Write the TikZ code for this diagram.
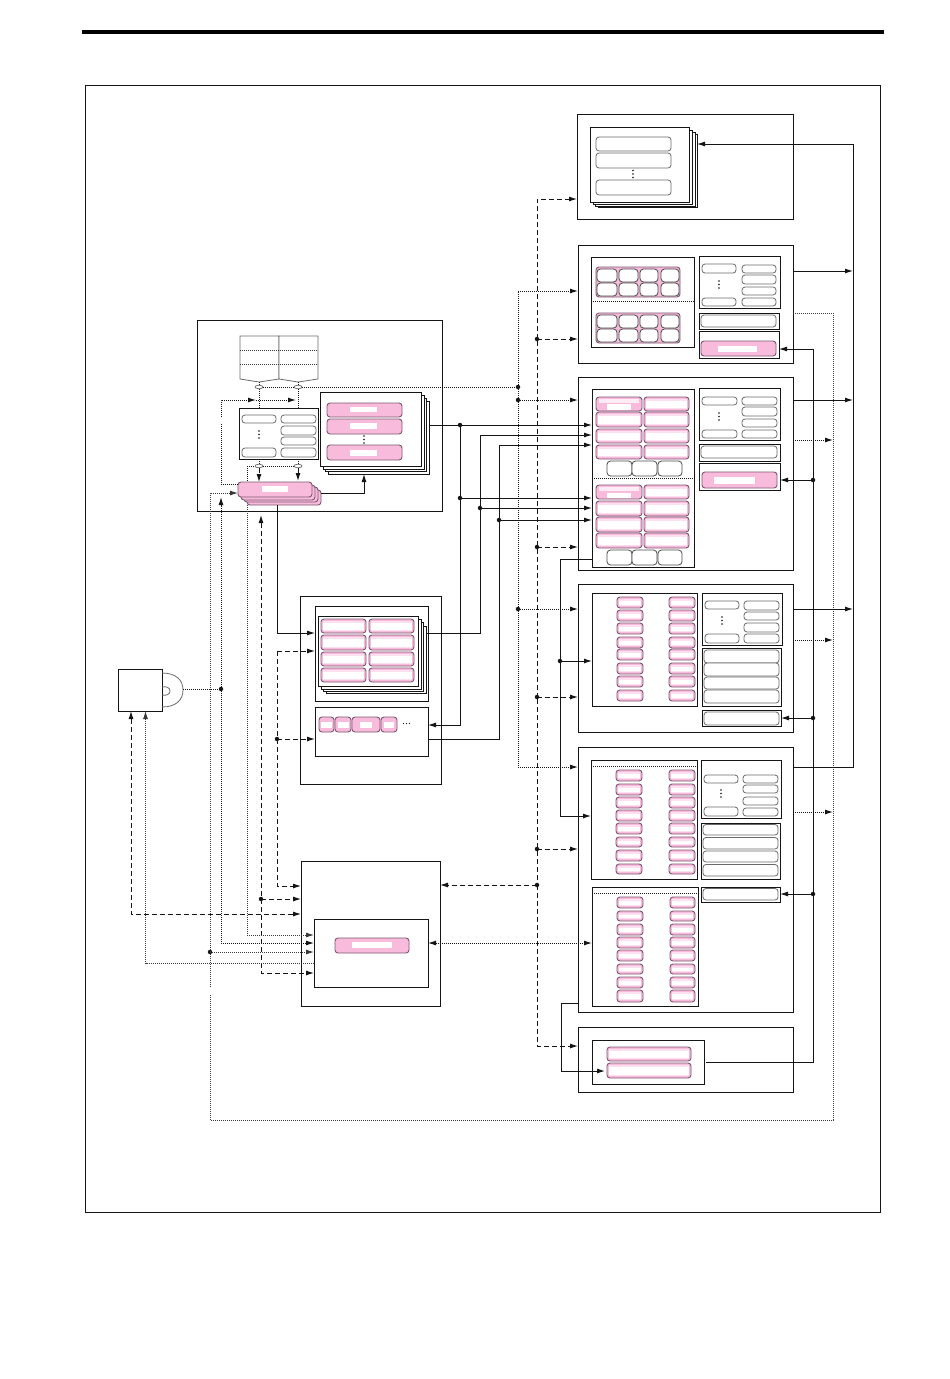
\documentclass[tikz,border=0pt]{standalone}
\usetikzlibrary{arrows.meta,shapes.geometric,calc}
\definecolor{pk}{HTML}{F9BBDC}
\definecolor{pkb}{HTML}{7A5870}
\definecolor{grb}{HTML}{6A6A6A}
\definecolor{ink}{HTML}{151515}
\tikzset{
  base/.style={rectangle,anchor=north west,inner sep=0pt,outer sep=0pt},
  boxst/.style={base,draw=ink,line width=.95pt,fill=white},
  sheet/.style={base,draw=ink,line width=.8pt,fill=white},
  ent/.style={base,draw=grb,line width=.8pt,fill=white,rounded corners=3pt},
  cell/.style={base,draw=grb!70!black,line width=.8pt,fill=white,rounded corners=3.5pt},
  pinkst/.style={base,draw=pkb,line width=.9pt,fill=pk,rounded corners=3pt},
  sol/.style={draw=ink,line width=.95pt},
  dsh/.style={draw=ink,line width=.95pt,dash pattern=on 5pt off 3pt},
  dot/.style={draw=ink,line width=1pt,dash pattern=on 1pt off 1pt},
  dotg/.style={draw=ink!85,line width=.9pt,dash pattern=on 1pt off 1pt},
  ar/.style={-{Latex[length=8pt,width=5pt]}},
  ra/.style={{Latex[length=8pt,width=5pt]}-},
  bi/.style={{Latex[length=8pt,width=5pt]}-{Latex[length=8pt,width=5pt]}},
  jn/.style={circle,fill=ink,inner sep=0pt,minimum size=4.5pt,outer sep=0pt},
  elp/.style={ellipse,draw=grb,line width=.7pt,fill=white,minimum width=8pt,minimum height=3.5pt,inner sep=0pt},
  pg/.style={draw=grb,line width=.8pt,fill=white},
  sep/.style={draw=ink,line width=.95pt,dash pattern=on 1pt off 1pt},
}
\newcommand\bx[6][boxst]{\pgfmathsetmacro\bxw{#5-#3}\pgfmathsetmacro\bxh{#6-#4}\node[#1,minimum width=\bxw pt,minimum height=\bxh pt] (#2) at (#3,#4) {};}
\newcommand\pkc[5]{\bx[pinkst]{#1}{#2}{#3}{#4}{#5}\fill[pk!45!white] ($(#2,#3)+(1.6,2)$) rectangle ($(#4,#5)+(-1.6,-1.8)$);\fill[white] ($(#2,#3)+(2.2,3.6)$) rectangle ($(#4,#5)+(-2.2,-3.4)$);}
\newcommand\pkw[9]{\bx[pinkst]{#1}{#2}{#3}{#4}{#5}\fill[white] (#6,#7) rectangle (#8,#9);}
\newcommand\vd[2]{\fill[ink] (#1,#2) circle (.9pt) (#1,#2+3.5) circle (.9pt) (#1,#2+7) circle (.9pt);}
\begin{document}
\begin{tikzpicture}[x=1pt,y=-1pt]
\useasboundingbox (0,0) rectangle (950,1379);
\fill[white] (0,0) rectangle (950,1379);
\draw[black,line width=3.2pt] (82,32) -- (884,32);
\bx[sheet]{frame}{85}{85}{880}{1212}

% ---------- Box A
\bx{boxA}{577}{114}{793}{219}
\bx[sheet]{sAd}{598}{134}{697}{207}
\bx[sheet]{sAc}{595}{132}{695}{206}
\bx[sheet]{sAb}{593}{130}{692}{204}
\bx[sheet]{sAa}{590}{127}{689}{202}
\bx[ent]{a1}{596}{137}{671}{151}
\bx[ent]{a2}{596}{153}{671}{168}
\bx[ent]{a3}{596}{180}{671}{195}
\vd{633}{170.5}

% ---------- Box B
\bx{boxB}{578}{245}{793}{363}
\bx{bL}{591}{257}{694}{347}
\draw[sep] (bL.west |- 0,301) -- (bL.east |- 0,301);
\bx[pinkst]{bG1}{596}{267}{680}{297}
\bx[pinkst]{bG2}{596}{313}{680}{343}
\foreach \k/\a/\b in {a/597/617,b/619/638,c/640/658,d/661/679}{
  \bx[cell]{bc1\k}{\a}{269}{\b}{282}
  \bx[cell]{bc2\k}{\a}{283}{\b}{296}
  \bx[cell]{bc3\k}{\a}{315}{\b}{328}
  \bx[cell]{bc4\k}{\a}{329}{\b}{342}
}
\bx{bR1}{699}{256}{780}{308}
\bx[ent]{bl1}{702}{264}{736}{273}
\bx[ent]{bl2}{702}{298}{736}{306}
\bx[ent]{br1}{742}{265}{776}{273}
\bx[ent]{br2}{742}{275}{776}{284}
\bx[ent]{br3}{742}{287}{776}{295}
\bx[ent]{br4}{742}{298}{776}{306}
\vd{719}{281}
\bx{bR2}{699}{313}{779}{329}
\bx[ent]{bR2e}{701}{315}{776}{327}
\bx{bR3}{699}{331}{779}{358}
\pkw{bR3p}{701}{341}{776}{356}{718}{346}{757}{352}

% ---------- Box C
\bx{boxC}{578}{377}{793}{570}
\bx{cL}{592}{389}{694}{567}
\draw[sep] (cL.west |- 0,478) -- (cL.east |- 0,478);
\pkw{c11}{596}{397}{642}{411}{607}{404}{631}{410}
\fill[white!70!pk] (599,399) rectangle (639,403);
\pkc{c12}{644}{397}{689}{411}
\pkc{c21}{596}{412}{642}{427}\pkc{c22}{644}{412}{689}{427}
\pkc{c31}{596}{429}{642}{443}\pkc{c32}{644}{429}{689}{443}
\pkc{c41}{596}{445}{642}{459}\pkc{c42}{644}{445}{689}{459}
\bx[cell]{cw1}{607}{461}{632}{476}\bx[cell]{cw2}{632}{461}{657}{476}\bx[cell]{cw3}{658}{461}{682}{476}
\pkw{c51}{596}{485}{642}{499}{607}{493}{631}{498}
\fill[white!70!pk] (599,486.5) rectangle (639,491);
\pkc{c52}{644}{485}{689}{499}
\pkc{c61}{596}{501}{642}{516}\pkc{c62}{644}{501}{689}{516}
\pkc{c71}{596}{517}{642}{532}\pkc{c72}{644}{517}{689}{532}
\pkc{c81}{596}{533}{642}{548}\pkc{c82}{644}{533}{689}{548}
\bx[cell]{cw4}{607}{550}{632}{565}\bx[cell]{cw5}{632}{550}{657}{565}\bx[cell]{cw6}{658}{550}{682}{565}
\bx{cR1}{699}{388}{780}{440}
\bx[ent]{cl1}{702}{397}{737}{405}
\bx[ent]{cl2}{702}{430}{737}{438}
\bx[ent]{cr1}{742}{397}{777}{405}
\bx[ent]{cr2}{742}{407}{777}{416}
\bx[ent]{cr3}{742}{419}{777}{427}
\bx[ent]{cr4}{742}{430}{777}{438}
\vd{719}{413}
\bx{cR2}{699}{444}{780}{461}
\bx[ent]{cR2e}{701}{446}{777}{458}
\bx{cR3}{699}{463}{780}{490}
\pkw{cR3p}{702}{472}{777}{488}{714}{477}{755}{484}

% ---------- Box D
\bx{boxD}{578}{584}{793}{732}
\bx{dL}{592}{593}{697}{706}
\foreach \i/\a/\b in {1/597/608,2/610/621,3/623/634,4/637/648,5/649/660,6/663/674,7/676/687,8/690/701}{
  \pkc{dp\i}{617}{\a}{643}{\b}
  \pkc{dq\i}{669}{\a}{695}{\b}
}
\bx{dR1}{702}{593}{782}{645}
\bx[ent]{dl1}{705}{601}{739}{609}
\bx[ent]{dl2}{705}{634}{739}{643}
\bx[ent]{dr1}{744}{601}{779}{610}
\bx[ent]{dr2}{744}{612}{779}{620}
\bx[ent]{dr3}{744}{623}{779}{632}
\bx[ent]{dr4}{744}{634}{779}{643}
\vd{722}{617}
\bx{dR2}{702}{648}{781}{706}
\bx[ent]{dm1}{704}{650}{779}{663}
\bx[ent]{dm2}{704}{663}{779}{676}
\bx[ent]{dm3}{704}{677}{779}{689}
\bx[ent]{dm4}{704}{690}{779}{703}
\bx{dR3}{702}{710}{781}{726}
\bx[ent]{dR3e}{704}{712}{779}{725}

% ---------- Box E
\bx{boxE}{578}{747}{793}{1012}
\bx{eT}{591}{760}{697}{879}
\draw[sep] (eT.west |- 0,766) -- (eT.east |- 0,766);
\foreach \i/\a/\b in {1/770/781,2/784/795,3/797/808,4/810/821,5/823/834,6/837/847,7/850/861,8/864/874}{
  \pkc{ep\i}{616}{\a}{642}{\b}
  \pkc{eq\i}{669}{\a}{695}{\b}
}
\bx{eR1}{701}{760}{781}{818}
\bx[ent]{el1}{704}{775}{738}{783}
\bx[ent]{el2}{704}{807}{738}{816}
\bx[ent]{er1}{743}{775}{778}{783}
\bx[ent]{er2}{743}{785}{778}{793}
\bx[ent]{er3}{743}{797}{778}{805}
\bx[ent]{er4}{743}{808}{778}{816}
\vd{721}{790}
\bx{eR2}{701}{823}{780}{879}
\bx[ent]{em1}{703}{824.5}{778}{835}
\bx[ent]{em2}{703}{837.5}{778}{849}
\bx[ent]{em3}{703}{851}{778}{862}
\bx[ent]{em4}{703}{864.5}{778}{876}
\bx{eR3}{701}{887}{780}{902}
\bx[ent]{eR3e}{703}{888.5}{778}{900}
\bx{eB}{592}{887}{698}{1006}
\draw[sep] (eB.west |- 0,893) -- (eB.east |- 0,893);
\foreach \i/\a/\b in {1/897/908,2/911/921,3/924/935,4/937/948,5/950/961,6/964/974,7/977/988,8/990/1002}{
  \pkc{er\i}{617}{\a}{643}{\b}
  \pkc{es\i}{670}{\a}{695}{\b}
}

% ---------- Box F
\bx{boxF}{578}{1027}{793}{1092}
\bx{fI}{592}{1040}{704}{1084}
\pkc{f1}{607}{1047}{691}{1061}
\pkc{f2}{607}{1063}{691}{1078}

% ---------- Box G
\bx{boxG}{197}{320}{442}{511}
\draw[pg] (240,336) -- (279,336) -- (279,379) -- (259,382) -- (240,379) -- cycle;
\draw[pg] (279,336) -- (318,336) -- (318,379) -- (298,382) -- (279,379) -- cycle;
\draw[dotg] (240,350) -- (318,350) (240,364) -- (318,364);
\coordinate (pgA) at (259,382);
\coordinate (pgB) at (298,382);
\bx{tbl}{239}{408}{318}{459}
\bx[ent]{gl1}{242}{415}{276}{423}
\bx[ent]{gl2}{242}{448}{276}{457}
\bx[ent]{gr1}{281}{415}{316}{423}
\bx[ent]{gr2}{281}{426}{316}{435}
\bx[ent]{gr3}{281}{437}{316}{445}
\bx[ent]{gr4}{281}{448}{316}{457}
\vd{259}{431}
% right stack
\bx[sheet]{sGc}{328}{401}{429}{474}
\bx[sheet]{sGb}{325}{398}{426}{471}
\bx[sheet]{sGa}{323}{395}{424}{469}
\bx[sheet]{sGf}{320}{392}{421}{466}
\pkw{g1}{327}{403}{402}{417}{350}{407}{377}{412}
\pkw{g2}{327}{419}{402}{434}{350}{423}{377}{429}
\pkw{g3}{327}{445}{402}{460}{350}{450}{377}{456}
\vd{364}{436}
% pink stack
\bx[pinkst]{stC}{247}{490}{321}{505}
\bx[pinkst]{stB}{244}{487}{318}{502}
\bx[pinkst]{stA}{241}{485}{315}{500}
\pkw{st}{238}{482}{312}{497}{262}{486}{288}{492}

% ---------- Box H
\bx{boxH}{300}{596}{441}{784}
\bx{hT}{315}{606}{428}{701}
\bx[sheet]{hSc}{326}{626}{426}{693}
\bx[sheet]{hSb}{323}{622}{423}{691}
\bx[sheet]{hSa}{321}{619}{421}{689}
\bx[sheet]{hSf}{318}{616}{418}{686}
\foreach \i/\a/\b in {1/619/633,2/635/650,3/652/666,4/668/682}{
  \pkc{hp\i}{321}{\a}{366}{\b}
  \pkc{hq\i}{369}{\a}{414}{\b}
}
\bx{hB}{315}{707}{428}{756}
\pkw{hs1}{319}{717}{334}{732}{321}{722}{332}{728}
\pkw{hs2}{335}{717}{351}{732}{338}{722}{349}{728}
\pkw{hs3}{352}{717}{380}{732}{360}{722}{372}{728}
\pkw{hs4}{381}{717}{397}{732}{384}{722}{394}{728}
\fill[ink] (403.5,723.5) circle (.7pt) (406.5,723.5) circle (.7pt) (409.5,723.5) circle (.7pt);

% ---------- Box J
\bx{boxJ}{301}{861}{440}{1006}
\bx{jI}{314}{919}{428}{987}
\pkw{jP}{335}{938}{409}{953}{352}{942}{392}{948}

% ---------- Box I + disc
\bx{boxI}{118}{669}{162}{711}
\draw[grb,line width=.8pt] (162,673) .. controls (176,673) and (183,680) .. (183,690) .. controls (183,700) and (176,707) .. (162,707);
\draw[grb,line width=.8pt] (162,687) .. controls (167,686) and (170,688) .. (170,691) .. controls (170,694) and (167,696) .. (162,695);
\coordinate (disc) at (183,689);

% ---------- Junctions
\node[jn] (jTop) at (518,387) {};
\node[jn] (jC) at (518,400) {};
\node[jn] (jD) at (518,609) {};
\node[jn] (jS1) at (460,425) {};
\node[jn] (jS2) at (460,498) {};
\node[jn] (jS3) at (480,508) {};
\node[jn] (jS4) at (499,520) {};
\node[jn] (jB) at (537,339) {};
\node[jn] (jCd) at (537,547) {};
\node[jn] (jDd) at (537,697) {};
\node[jn] (jEd) at (537,849) {};
\node[jn] (jJd) at (537,885) {};
\node[jn] (jL) at (560,661) {};
\node[jn] (jDisc) at (221,689) {};
\node[jn] (jH) at (277,739) {};
\node[jn] (jK) at (261,899) {};
\node[jn] (jM) at (210,952) {};
\node[jn] (jR1) at (813,480) {};
\node[jn] (jR2) at (813,718) {};
\node[jn] (jR3) at (813,894) {};

% ---------- ellipses and connectors at the books
\node[elp] (elA) at (259,387) {};
\node[elp] (elB) at (298,387) {};
\node[elp] (elC) at (259,466) {};
\node[elp] (elD) at (298,466) {};
\draw[dot] (pgA) -- (elA);
\draw[dot] (pgB) -- (elB);
\draw[dot] (elA) -- (tbl.north -| elA);
\draw[dot] (elB) -- (tbl.north -| elB);
\draw[dot] (elA) -- (elB);
\draw[dot] (elB) -- (jTop);
\draw[dot] (tbl.south -| elC) -- (elC);
\draw[dot] (tbl.south -| elD) -- (elD);
\draw[dot] (elC) -- (elD);
\draw[dsh,ar] (elC) -- (st.north -| elC);
\draw[dsh,ar] (elD) -- (298,481);
\draw[dot] (247,466) -- (elC);
\draw[dot] (247,466) -- (st.north -| 247,0);
\coordinate (loopC) at (221,400);
\coordinate (loopA) at (256,400);
\coordinate (loopB) at (296,400);
\coordinate (loopG1) at (221,417);
\coordinate (loopG2) at (221,424);
\draw[dot] (st.west |- 0,484) -| (loopG2);
\draw[dot,ar] (loopG1) -- (loopC) -- (loopA);
\draw[dot,ar] (loopA) -- (loopB);
\draw[sol,ar] (stC.east |- 0,493) -| (sGc.south -| 364,0);

% ---------- dotted trunk
\draw[dot,ar] (jTop.center) |- (boxB.west |- 0,291);
\draw[dot] (jTop) -- (jC);
\draw[dot,ar] (jC.center) -- (boxC.west |- 0,400);
\draw[dot] (jC) -- (jD);
\draw[dot,ar] (jD.center) -- (boxD.west |- 0,609);
\draw[dot,ar] (jD.center) |- (boxE.west |- 0,767);

% ---------- dashed trunk
\draw[dsh,ar] (jB.center) |- (boxA.west |- 0,199);
\draw[dsh,ar] (jB.center) -- (boxB.west |- 0,339);
\draw[dsh] (jB) -- (jCd);
\draw[dsh,ar] (jCd.center) -- (boxC.west |- 0,547);
\draw[dsh] (jCd) -- (jDd);
\draw[dsh,ar] (jDd.center) -- (boxD.west |- 0,697);
\draw[dsh] (jDd) -- (jEd);
\draw[dsh,ar] (jEd.center) -- (boxE.west |- 0,849);
\draw[dsh] (jEd) -- (jJd);
\draw[dsh,ar] (jJd.center) -- (boxJ.east |- 0,885);
\draw[dsh,ar] (jJd.center) |- (boxF.west |- 0,1046);

% ---------- solid links to box C
\draw[sol] (sGc.east |- jS1) -- (jS1);
\draw[sol,ar] (jS1.center) -- (cL.west |- jS1);
\draw[sol] (jS1) -- (jS2);
\draw[sol,ar] (jS2.center) -- (cL.west |- jS2);
\draw[sol,ar] (jS2.center) |- (hB.east |- 0,725);
\draw[sol] (hSc.east |- 0,633) -| (jS3);
\draw[sol,ar] (jS3.center) |- (cL.west |- 0,435);
\draw[sol,ar] (jS3.center) -- (cL.west |- jS3);
\draw[sol] (hB.east |- 0,739) -| (jS4);
\draw[sol,ar] (jS4.center) |- (cL.west |- 0,445);
\draw[sol,ar] (jS4.center) -- (cL.west |- jS4);

% ---------- solid, mid
\draw[sol] (cL.west |- 0,559) -| (jL);
\draw[sol,ar] (jL.center) -- (dL.west |- jL);
\draw[sol,ar] (jL.center) |- (eT.west |- 0,816);
\coordinate (fIn) at (605,1071);
\draw[sol,ar] (boxE.west |- 0,1003) -| (561,1071) -- (fIn);

% ---------- stacks down to H, J
\draw[sol,ar] (stC.south -| 277,0) |- (hT.west |- 0,633);
\draw[dsh,ar] (277,651) -- (hT.west |- 0,651);
\draw[dsh] (277,651) -- (jH);
\draw[dsh,ar] (jH.center) -- (hT.west |- jH);
\draw[dsh,ar] (jH.center) |- (boxJ.west |- 0,886);
\draw[dsh,ra] (261,515) -- (jK);
\draw[dsh,ar] (jK.center) -- (boxJ.west |- jK);
\draw[dsh,ar] (jK.center) |- (jI.west |- 0,973);
\draw[dotg,ar] (247,505) |- (jI.west |- 0,935);
\coordinate (upTip) at (221,497);
\draw[dot,ar] (jDisc.center) -- (upTip);
\draw[dot,ar] (jDisc.center) |- (jI.west |- 0,943);
\draw[dot] (disc) -- (jDisc);
\draw[dotg,ar] (jM.center) -- (jI.west |- jM);
\coordinate (rimA) at (210,1120);
\coordinate (rimB) at (833,1120);
\coordinate (rimC) at (833,313);
\coordinate (gapT) at (210,987);
\coordinate (gapB) at (210,995);
\draw[dotg] (boxB.east |- rimC) -- (rimC) -- (rimB) -- (rimA) -- (gapB);
\draw[dotg] (gapT) -- (jM);
\draw[dotg,ar] (jM.center) |- (st.west |- 0,493);
\draw[dot,ar] (boxC.east |- 0,440) -- (833,440);
\draw[dot,ar] (boxD.east |- 0,640) -- (833,640);
\draw[dot,ar] (boxE.east |- 0,812) -- (833,812);

% ---------- left box
\draw[dsh,bi] (boxI.south -| 131,0) |- (boxJ.west |- 0,914);
\draw[dotg,ar] (jI.west |- 0,963) -| (boxI.south -| 145.5,0);

% ---------- bidirectional J to E
\draw[dot,bi] (jI.east |- 0,943) -- (eB.west |- 0,943);

% ---------- right trunks
\coordinate (rTop) at (853,144);
\coordinate (rBot) at (853,767);
\draw[sol,ar] (boxE.east |- rBot) -- (rBot) -- (rTop) -- (sAd.east |- rTop);
\draw[sol,ar] (boxB.east |- 0,271) -- (853,271);
\draw[sol,ar] (boxC.east |- 0,400) -- (853,400);
\draw[sol,ar] (boxD.east |- 0,609) -- (853,609);
\coordinate (fOut) at (706,1062);
\draw[sol] (fOut) -| (jR3);
\draw[sol] (jR3) -- (jR2);
\draw[sol] (jR2) -- (jR1);
\draw[sol,ar] (jR1.center) |- (bR3.east |- 0,349);
\draw[sol,ar] (jR1.center) -- (cR3.east |- jR1);
\draw[sol,ar] (jR2.center) -- (dR3.east |- jR2);
\draw[sol,ar] (jR3.center) -- (eR3.east |- jR3);
\end{tikzpicture}
\end{document}
